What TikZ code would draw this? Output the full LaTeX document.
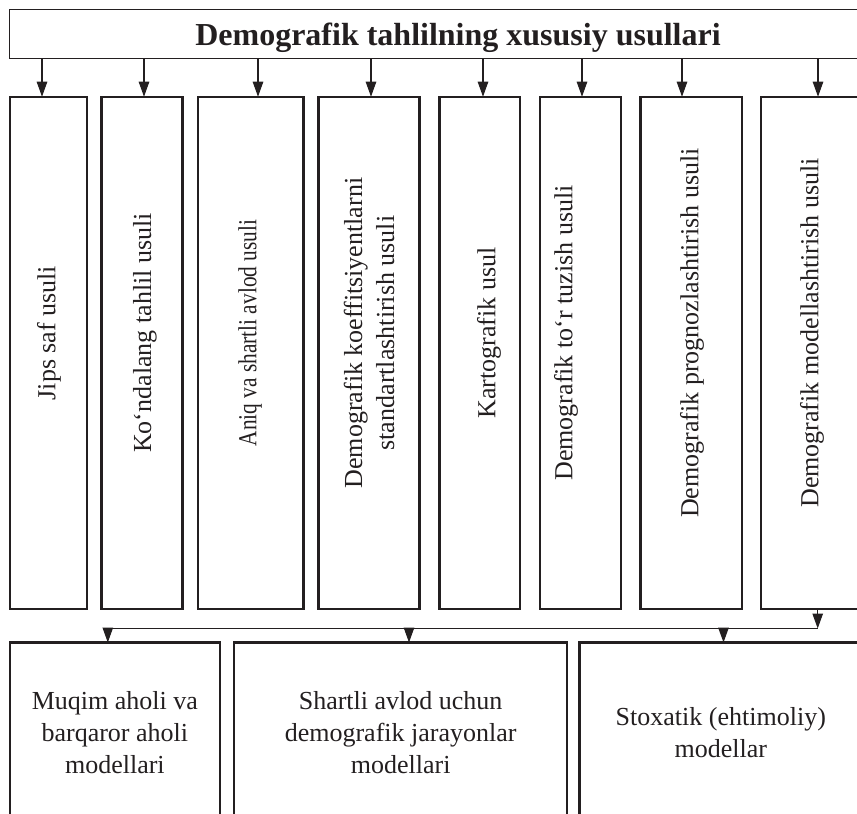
\documentclass[tikz,border=0pt]{standalone}
\usepackage{fontspec}
\setmainfont{Liberation Serif}
\usetikzlibrary{arrows.meta}
\definecolor{ink}{RGB}{35,31,32}
\begin{document}
\begin{tikzpicture}[x=1pt,y=-1pt,
  every node/.style={inner sep=0pt, outer sep=0pt, text=ink},
  headbox/.style={draw=ink, line width=1.3pt, minimum width=897.4pt, minimum height=49pt, text depth=0pt, font=\bfseries\fontsize{32}{38}\selectfont},
  colbox/.style={draw=ink, line width=2.3pt, minimum height=512.3pt},
  vtext/.style={rotate=90, align=center, font=\fontsize{26}{32}\selectfont},
  botbox/.style={draw=ink, line width=2.3pt, minimum height=180pt, align=center, font=\fontsize{26}{31.7}\selectfont},
  arr/.style={draw=ink, line width=1.1pt, -{Triangle[length=15pt,width=10.5pt]}},
  conn/.style={draw=ink, line width=1.1pt}
]
\useasboundingbox (0,0) rectangle (857,814);
\clip (0,0) rectangle (857,814);

% title
\node[headbox] (title) at (458,33.8) {Demografik tahlilning xususiy usullari};

% column boxes
\node[colbox, minimum width=77pt]    (b1) at (48.5,352.85) {};
\node[colbox, minimum width=81pt]    (b2) at (142,352.85) {};
\node[colbox, minimum width=105.5pt] (b3) at (250.75,352.85) {};
\node[colbox, minimum width=101pt]   (b4) at (369,352.85) {};
\node[colbox, minimum width=80.5pt]  (b5) at (479.75,352.85) {};
\node[colbox, minimum width=81pt]    (b6) at (580.5,352.85) {};
\node[colbox, minimum width=101.5pt] (b7) at (691.25,352.85) {};
\node[colbox, minimum width=101pt]   (b8) at (811.5,352.85) {};

% column texts
\node[vtext] (t1) at (49,333) {Jips saf usuli};
\node[vtext] (t2) at (145,333) {Ko‘ndalang tahlil usuli};
\node[vtext] (t3) at (250,333) {\scalebox{0.82}[1]{Aniq va shartli avlod usuli}};
\node[vtext] (t4) at (369,333) {Demografik koeffitsiyentlarni\\standartlashtirish usuli};
\node[vtext] (t5) at (489,333) {Kartografik usul};
\node[vtext] (t6) at (566,333) {Demografik to‘r tuzish usuli};
\node[vtext] (t7) at (692,333) {Demografik prognozlashtirish usuli};
\node[vtext] (t8) at (812,333) {Demografik modellashtirish usuli};

% arrows from title
\draw[arr] ([xshift=-6.5pt]b1.north |- title.south) -- ([xshift=-6.5pt]b1.north);
\draw[arr] ([xshift=2pt]b2.north |- title.south) -- ([xshift=2pt]b2.north);
\draw[arr] ([xshift=7.25pt]b3.north |- title.south) -- ([xshift=7.25pt]b3.north);
\draw[arr] ([xshift=2pt]b4.north |- title.south) -- ([xshift=2pt]b4.north);
\draw[arr] ([xshift=3.25pt]b5.north |- title.south) -- ([xshift=3.25pt]b5.north);
\draw[arr] ([xshift=1.5pt]b6.north |- title.south) -- ([xshift=1.5pt]b6.north);
\draw[arr] ([xshift=-9.25pt]b7.north |- title.south) -- ([xshift=-9.25pt]b7.north);
\draw[arr] ([xshift=6.5pt]b8.north |- title.south) -- ([xshift=6.5pt]b8.north);

% bottom boxes
\node[botbox, minimum width=209.9pt] (m1) at (114.85,732.5) {Muqim aholi va\\barqaror aholi\\modellari};
\node[botbox, minimum width=332.9pt] (m2) at (400.65,732.5) {Shartli avlod uchun\\demografik jarayonlar\\modellari};
\node[botbox, minimum width=282.4pt] (m3) at (720.8,732.5) {Stoxatik (ehtimoliy)\\modellar};

% lower connector
\coordinate (j) at (817.7,628.5);
\coordinate (jl) at (107.8,628.5);
\draw[arr] ([xshift=6.2pt]b8.south) -- (j);
\draw[conn] (jl) -- (j);
\draw[arr] (jl) -- (m1.north -| jl);
\draw[arr] ([xshift=8.35pt]m2.north |- j) -- ([xshift=8.35pt]m2.north);
\draw[arr] ([xshift=2.7pt]m3.north |- j) -- ([xshift=2.7pt]m3.north);
\end{tikzpicture}
\end{document}
